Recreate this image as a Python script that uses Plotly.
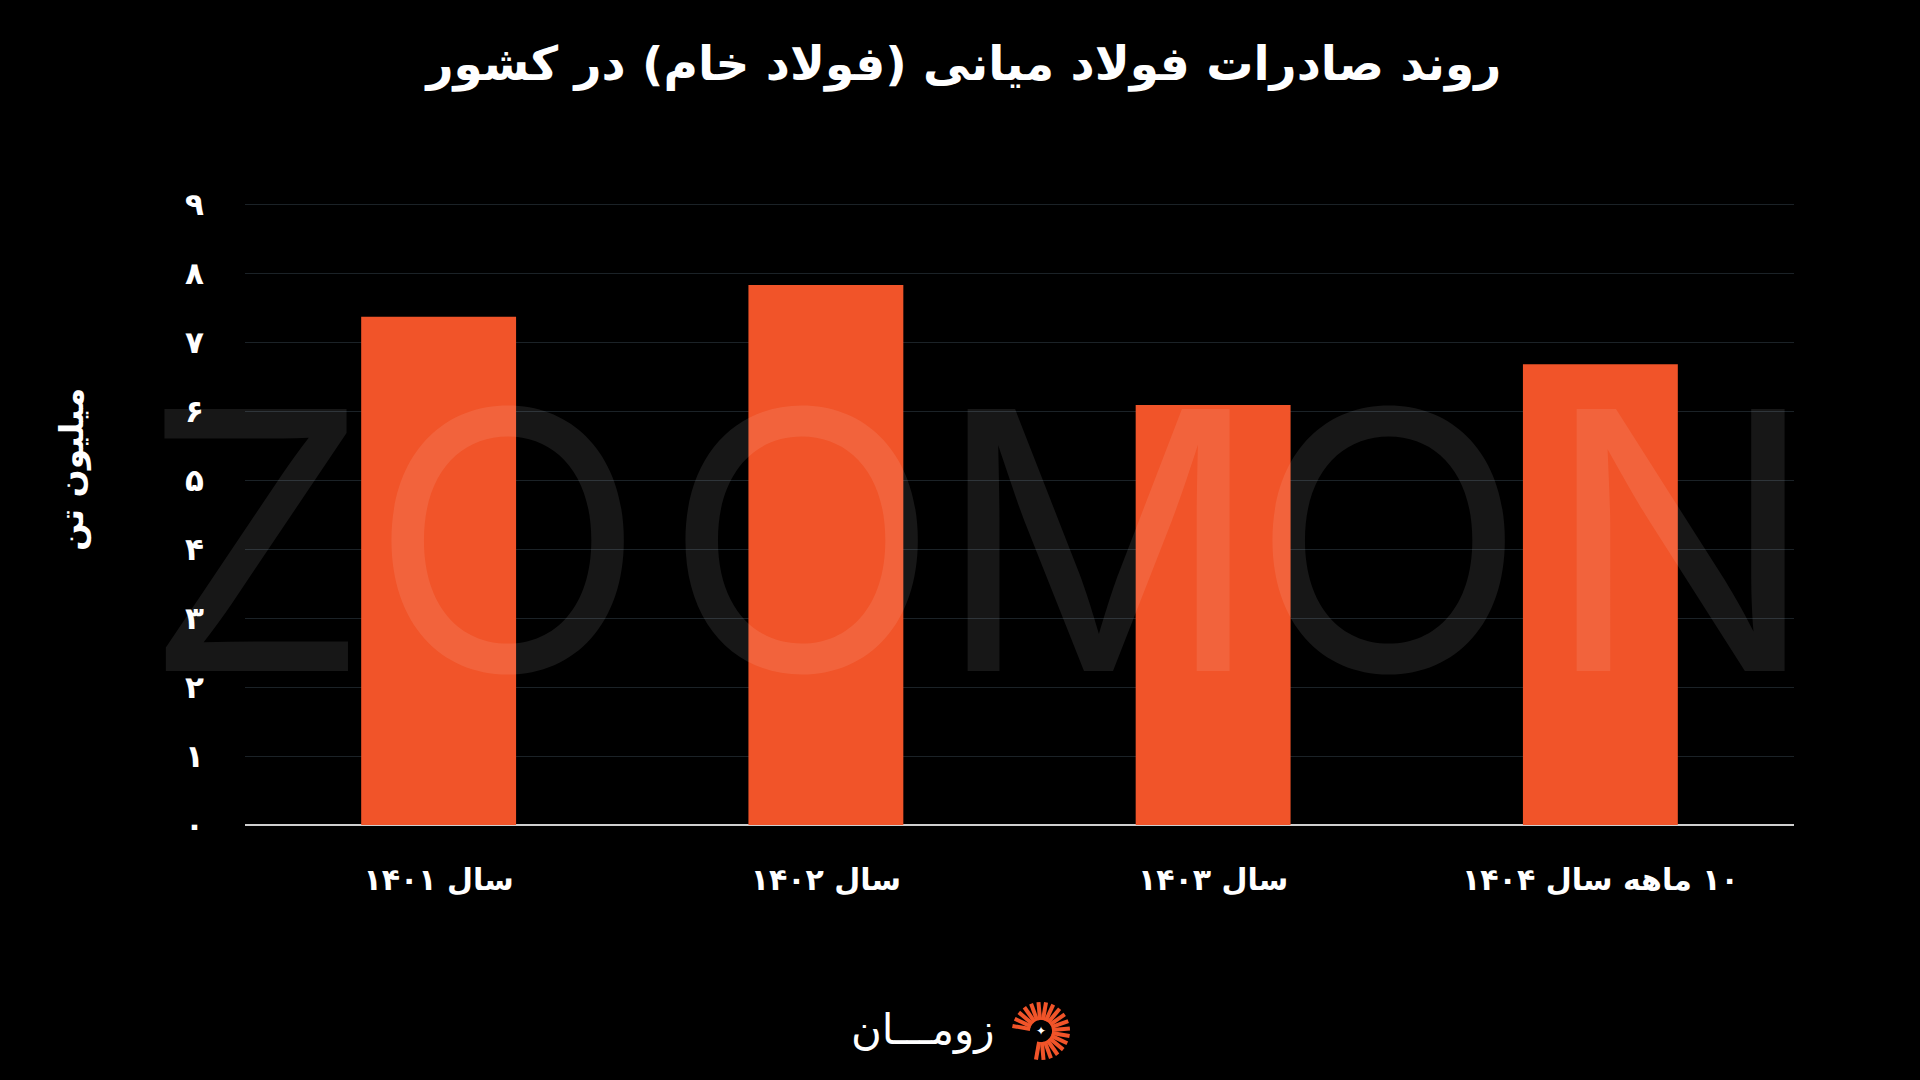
import math
import plotly.graph_objects as go

# ---- data ----
categories = ["سال ۱۴۰۱", "سال ۱۴۰۲", "سال ۱۴۰۳", "\u200f۱۰ ماهه سال ۱۴۰۴"]
values = [7.37, 7.83, 6.09, 6.68]
y_tickvals = [0, 1, 2, 3, 4, 5, 6, 7, 8, 9]
y_ticktext = ["۰", "۱", "۲", "۳", "۴", "۵", "۶", "۷", "۸", "۹"]
title_text = "روند صادرات فولاد میانی (فولاد خام) در کشور"
y_title = "میلیون تن"
watermark = "ZOOMON"
logo_text = "زومـــان"

W, H = 1920, 1080
L, R, T, B = 245, 126, 203, 255
PW, PH = W - L - R, H - T - B

def px(x):
    return (x - L) / PW

def py(y):
    return (H - B - y) / PH

FONT = "DejaVu Sans"
BAR = "#F15429"

fig = go.Figure(
    go.Bar(
        x=categories,
        y=values,
        marker=dict(color=BAR, line=dict(width=0)),
        width=0.4,
        hoverinfo="skip",
    )
)

fig.update_layout(
    width=W,
    height=H,
    margin=dict(l=L, r=R, t=T, b=B),
    paper_bgcolor="#000000",
    plot_bgcolor="#000000",
    showlegend=False,
    title=dict(
        text=title_text,
        x=0.502,
        xref="container",
        xanchor="center",
        y=1 - 64 / H,
        yref="container",
        yanchor="middle",
        font=dict(family=FONT, size=47, color="#ffffff", weight="bold"),
    ),
    bargap=0.6,
)

fig.update_xaxes(
    showgrid=False,
    showline=False,
    zeroline=False,
    ticks="",
    tickfont=dict(family=FONT, size=30, color="#ffffff", weight="bold"),
    ticklabelstandoff=34,
)

fig.update_yaxes(
    range=[0, 9.02],
    tickvals=y_tickvals,
    ticktext=y_ticktext,
    showgrid=True,
    gridcolor="#1b2227",
    gridwidth=1,
    zeroline=True,
    zerolinecolor="#cfcfcf",
    zerolinewidth=2,
    showline=False,
    ticks="",
    tickfont=dict(family=FONT, size=31, color="#ffffff", weight="bold"),
    ticklabelstandoff=40,
)

annotations = []

# watermark, letter by letter (decorative)
wm_centers = [256, 507, 801, 1098, 1388, 1680]
for ch, cxp in zip(watermark, wm_centers):
    annotations.append(dict(
        text=ch,
        x=px(cxp), y=py(540),
        xref="paper", yref="paper",
        xanchor="center", yanchor="middle",
        showarrow=False,
        font=dict(family="Inter", size=360, color="rgba(255,255,255,0.09)", weight=400),
    ))

annotations += [
    # y-axis title
    dict(
        text=y_title,
        x=px(72), y=py(470),
        xref="paper", yref="paper",
        xanchor="center", yanchor="middle",
        textangle=-90,
        showarrow=False,
        font=dict(family=FONT, size=33, color="#ffffff", weight="bold"),
    ),
    # logo text
    dict(
        text=logo_text,
        x=px(923), y=py(1029),
        xref="paper", yref="paper",
        xanchor="center", yanchor="middle",
        showarrow=False,
        font=dict(family=FONT, size=42, color="#ffffff"),
    ),
    # logo star
    dict(
        text="✦",
        x=px(1041), y=py(1031),
        xref="paper", yref="paper",
        xanchor="center", yanchor="middle",
        showarrow=False,
        font=dict(family=FONT, size=12, color="#ffffff"),
    ),
]

shapes = []
cx, cy = 1041, 1031
r_in, r_out = 11, 29
ang = -100
while ang <= 170:
    a = math.radians(ang)
    x0, y0 = cx + r_in * math.cos(a), cy - r_in * math.sin(a)
    x1, y1 = cx + r_out * math.cos(a), cy - r_out * math.sin(a)
    shapes.append(dict(
        type="line", xref="paper", yref="paper",
        x0=px(x0), y0=py(y0), x1=px(x1), y1=py(y1),
        line=dict(color=BAR, width=4),
    ))
    ang += 15

fig.update_layout(annotations=annotations, shapes=shapes)

fig.write_html(
    "out.html",
    config={"displayModeBar": False},
    post_script="document.body.style.margin='0';document.body.style.background='#000';",
)
